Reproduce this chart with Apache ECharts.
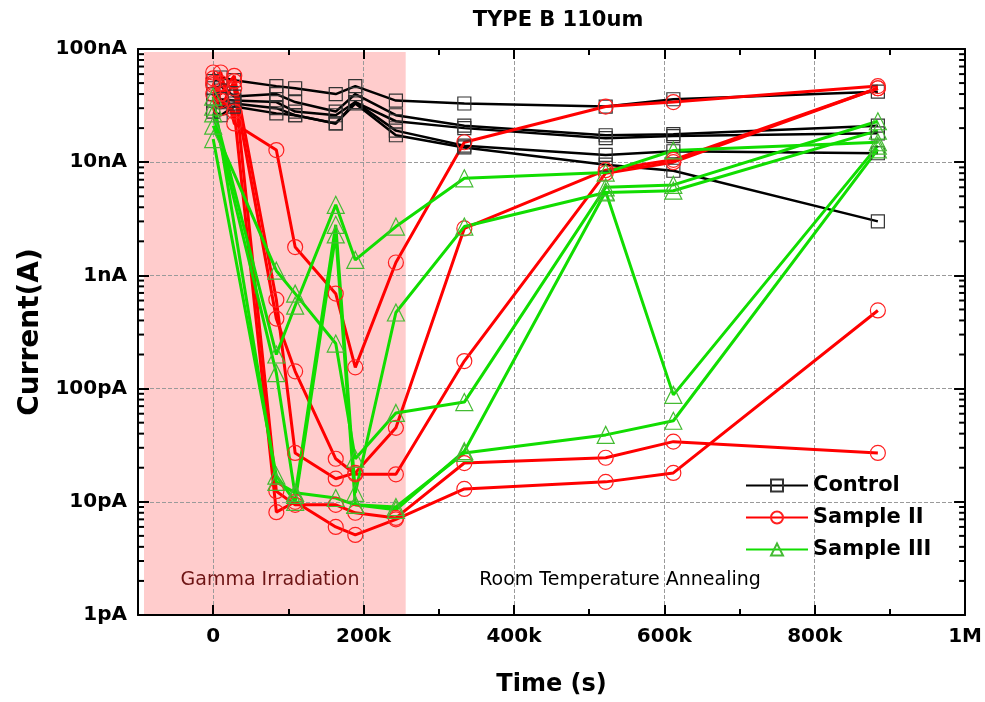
<!DOCTYPE html>
<html>
<head>
<meta charset="utf-8">
<script src="https://cdn.jsdelivr.net/npm/echarts@6/dist/echarts.min.js"></script>
<style>html,body{margin:0;padding:0;background:#fff}#c{width:985px;height:702px}</style>
</head>
<body>
<div id="c"></div>
<script>
// ---- data (current in pA, time in s) ----
const times = [0, 10000, 28000, 84000, 109000, 163000, 189000, 243000, 334000, 522000, 612000, 884000];

const control1 = [52000, 56000, 53000, 47000, 45000, 40000, 47000, 35000, 33000, 31000, 36000, 42000];
const control2 = [45000, 47000, 38000, 40000, 34000, 28000, 40000, 26000, 21000, 17300, 17700, 21000];
const control3 = [40000, 36000, 35000, 34000, 28000, 26000, 34000, 23000, 20000, 16300, 17000, 18000];
const control4 = [35000, 30000, 33000, 30000, 26000, 22000, 34000, 19000, 14000, 11600, 12500, 12000];
const control5 = [28000, 26000, 31000, 27000, 26000, 22000, 33000, 17300, 13500, 9500, 8400, 3000];

const sample2a = [55000, 62000, 22000, 12800, 1780, 690, 154, 1300, 15000, 31000, 34000, 47000];
const sample2b = [48000, 40000, 58000, 610, 27, 16, 18, 45, 2600, 8500, 10500, 45000];
const sample2c = [62000, 50000, 45000, 415, 142, 24, 17.5, 17.5, 175, 8000, 10000, 45000];
const sample2d = [40000, 30000, 52000, 12.4, 9.4, 9.4, 8, 7.2, 22, 24.5, 34, 27];
const sample2e = [50000, 35000, 28000, 8.1, 10, 6, 5.1, 7, 13, 15, 18, 490];

const sample3a = [31000, null, null, 200, 540, 4200, 1370, 2700, 7200, 8100, 12700, 15000];
const sample3b = [21000, null, null, 1100, 690, 250, 24, 61, 76, 6000, 6300, 23000];
const sample3c = [27000, null, null, 137, 11.5, 2800, 12, 470, 2700, 5400, 5600, 19000];
const sample3d = [16000, null, null, 17, 10, 2300, 9.4, 8.5, 28, 5500, 88, 14000];
const sample3e = [38000, null, null, 15, 12, 10.8, 9.4, 9, 27, 39, 52, 13000];

const gammaPeriod = [-92000, 256000];
const gammaTop = 94000;

const xMajorTicks = [0, 200000, 400000, 600000, 800000, 1000000];
const xTickLabels = ['0', '200k', '400k', '600k', '800k', '1M'];
const yTickLabels = ['1pA', '10pA', '100pA', '1nA', '10nA', '100nA'];
const yMinorTickValues = [2,3,4,5,6,7,8,9, 20,30,40,50,60,70,80,90, 200,300,400,500,600,700,800,900,
  2000,3000,4000,5000,6000,7000,8000,9000, 20000,30000,40000,50000,60000,70000,80000,90000];

// ---- build ----
function pairs(vals) {
  const out = [];
  times.forEach((t, i) => { if (vals[i] != null) out.push([t, vals[i]]); });
  return out;
}
const FONT = 'DejaVu Sans';
const groups = [
  {name: 'Control', arr: [control1, control2, control3, control4, control5], symbol: 'rect', size: 13,
   line: '#000000', border: '#333333', width: 2.5},
  {name: 'Sample II', arr: [sample2a, sample2b, sample2c, sample2d, sample2e], symbol: 'circle', size: 15,
   line: '#ff0000', border: '#ff2020', width: 3},
  {name: 'Sample III', arr: [sample3a, sample3b, sample3c, sample3d, sample3e], symbol: 'triangle', size: 17,
   line: '#11dd00', border: '#44bb33', width: 3}
];
const series = [];
series.push({
  type: 'custom', name: 'gamma', z: -1, silent: true,
  data: [[gammaPeriod[0], 1]],
  renderItem: function (params, api) {
    const p1 = api.coord([gammaPeriod[0], gammaTop]);
    const p2 = api.coord([gammaPeriod[1], 1]);
    return {type: 'rect', shape: {x: p1[0], y: p1[1], width: p2[0] - p1[0], height: p2[1] - p1[1]},
            style: {fill: '#ffcccc'}};
  }
});
series.push({
  type: 'custom', name: 'minor', z: 5, silent: true,
  data: yMinorTickValues.map(v => [0, v]),
  renderItem: function (params, api) {
    const cs = params.coordSys;
    const y = api.coord([0, api.value(1)])[1];
    return {type: 'group', children: [
      {type: 'line', shape: {x1: cs.x, y1: y, x2: cs.x + 6, y2: y}, style: {stroke: '#000', lineWidth: 2}},
      {type: 'line', shape: {x1: cs.x + cs.width, y1: y, x2: cs.x + cs.width - 6, y2: y}, style: {stroke: '#000', lineWidth: 2}}
    ]};
  }
});
groups.forEach(g => {
  g.arr.forEach(vals => {
    series.push({
      type: 'line', name: g.name, data: pairs(vals),
      symbol: g.symbol, symbolSize: g.size, showSymbol: true,
      lineStyle: {color: g.line, width: g.width},
      itemStyle: {color: 'rgba(255,255,255,0)', borderColor: g.border, borderWidth: 1.2},
      emphasis: {disabled: true}, z: 3
    });
  });
});

const axLine = {show: true, onZero: false, lineStyle: {color: '#000', width: 2}};
const chart = echarts.init(document.getElementById('c'));
chart.setOption({
  animation: false,
  backgroundColor: '#ffffff',
  title: {text: 'TYPE B 110um', left: 553, top: 5, textAlign: 'center',
          textStyle: {fontFamily: FONT, fontWeight: 'bold', fontSize: 21, color: '#000'}},
  grid: {left: 138, right: 13, top: 49, bottom: 80},
  legend: {
    data: ['Control', 'Sample II', 'Sample III'], orient: 'vertical', left: 740, top: 470,
    itemWidth: 62, itemHeight: 15, itemGap: 11,
    textStyle: {fontFamily: FONT, fontWeight: 'bold', fontSize: 21, color: '#000'}
  },
  xAxis: [
    {type: 'value', min: -100000, max: 1000000, interval: 100000, position: 'bottom',
     axisLine: axLine,
     axisTick: {show: true, inside: true, length: 10, customValues: xMajorTicks, lineStyle: {width: 2, color: '#000'}},
     axisLabel: {customValues: xMajorTicks, margin: 12, fontFamily: FONT, fontWeight: 'bold', fontSize: 20, color: '#000',
                 formatter: v => xTickLabels[xMajorTicks.indexOf(v)]},
     splitLine: {show: true, lineStyle: {type: 'dashed', color: '#9a9a9a', width: 1}},
     name: 'Time (s)', nameLocation: 'middle', nameGap: 58,
     nameTextStyle: {fontFamily: FONT, fontWeight: 'bold', fontSize: 24, color: '#000'}},
    {type: 'value', min: -100000, max: 1000000, interval: 100000, position: 'bottom',
     axisLine: {show: false}, axisTick: {show: true, inside: true, length: 6, lineStyle: {width: 2, color: '#000'}},
     axisLabel: {show: false}, splitLine: {show: false}},
    {type: 'value', min: -100000, max: 1000000, interval: 100000, position: 'top',
     axisLine: axLine,
     axisTick: {show: true, inside: true, length: 10, customValues: xMajorTicks, lineStyle: {width: 2, color: '#000'}},
     axisLabel: {show: false}, splitLine: {show: false}},
    {type: 'value', min: -100000, max: 1000000, interval: 100000, position: 'top',
     axisLine: {show: false}, axisTick: {show: true, inside: true, length: 6, lineStyle: {width: 2, color: '#000'}},
     axisLabel: {show: false}, splitLine: {show: false}}
  ],
  yAxis: [
    {type: 'log', logBase: 10, min: 1, max: 100000, position: 'left',
     axisLine: axLine,
     axisTick: {show: true, inside: true, length: 11, lineStyle: {width: 2, color: '#000'}},
     axisLabel: {margin: 11, fontFamily: FONT, fontWeight: 'bold', fontSize: 20, color: '#000',
                 formatter: v => yTickLabels[Math.round(Math.log10(v))]},
     splitLine: {show: true, lineStyle: {type: 'dashed', color: '#9a9a9a', width: 1}},
     name: 'Current(A)', nameLocation: 'middle', nameGap: 92,
     nameTextStyle: {fontFamily: FONT, fontWeight: 'bold', fontSize: 28, color: '#000'}},
    {type: 'log', logBase: 10, min: 1, max: 100000, position: 'right',
     axisLine: axLine,
     axisTick: {show: true, inside: true, length: 11, lineStyle: {width: 2, color: '#000'}},
     axisLabel: {show: false}, splitLine: {show: false}}
  ],
  graphic: [
    {type: 'text', x: 270, y: 580, silent: true,
     style: {text: 'Gamma Irradiation', align: 'center', verticalAlign: 'middle', font: '19px "DejaVu Sans"', fill: '#6e1515'}},
    {type: 'text', x: 620, y: 580, silent: true,
     style: {text: 'Room Temperature Annealing', align: 'center', verticalAlign: 'middle', font: '19px "DejaVu Sans"', fill: '#000'}}
  ],
  series: series
});
</script>
</body>
</html>
